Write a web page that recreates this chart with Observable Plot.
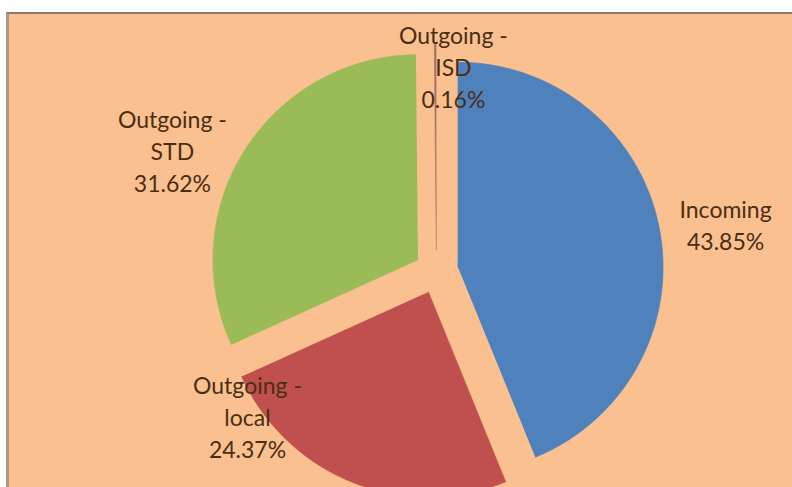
<!DOCTYPE html>
<html>
<head>
<meta charset="utf-8">
<script src="https://cdn.jsdelivr.net/npm/d3@7"></script>
<script src="https://cdn.jsdelivr.net/npm/@observablehq/plot@0.6"></script>
<style>
  html, body { margin: 0; padding: 0; background: #ffffff; width: 792px; height: 487px; overflow: hidden; }
  #frame {
    position: absolute; left: 6px; top: 12px;
    width: 783px; height: 473px;
    border-left: 3px solid #a89888; border-top: 2px solid #8f7866;
    background: #fac090; overflow: hidden;
  }
  #frame svg { display: block; background: transparent; }
</style>
</head>
<body>
<div id="frame"></div>
<script>
// ---- data ----
const categories = ["Incoming", "Outgoing - local", "Outgoing - STD", "Outgoing - ISD"];
const shares = [43.85, 24.37, 31.62, 0.16];            // percent
const labelLines = ["Incoming\n43.85%", "Outgoing -\nlocal\n24.37%", "Outgoing -\nSTD\n31.62%", "Outgoing -\nISD\n0.16%"];
const sliceColors = ["#4f81bd", "#c0504d", "#9bbb59", "#a27466"];

// ---- layout (not data) ----
const W = 783, H = 473;          // svg size
const cx = 427, cy = 257;        // pie centre in svg pixels
const R = 205;                   // pie radius in pixels
const explode = 0.107;           // explode distance, in radii
const labelPlace = {             // label block centre: angle (deg, clockwise from top), distance (radii)
  "Incoming": [80.7, 1.429],
  "Outgoing - local": [232.7, 1.159],
  "Outgoing - STD": [294.7, 1.418],
  "Outgoing - ISD": [4.7, 1.006]
};

// ---- geometry from data ----
const total = d3.sum(shares);
const slicePts = [];
const labels = [];
let acc = 0;
categories.forEach((name, i) => {
  const a0 = acc / total * 2 * Math.PI;
  acc += shares[i];
  const a1 = acc / total * 2 * Math.PI;
  const mid = (a0 + a1) / 2;
  const ox = explode * Math.sin(mid), oy = -explode * Math.cos(mid);
  slicePts.push({name, x: ox, y: oy});
  const n = Math.max(2, Math.ceil((a1 - a0) / (Math.PI / 360)));
  for (let k = 0; k <= n; k++) {
    const a = a0 + (a1 - a0) * k / n;
    slicePts.push({name, x: ox + Math.sin(a), y: oy - Math.cos(a)});
  }
  const [ang, dist] = labelPlace[name];
  const t = ang * Math.PI / 180;
  labels.push({name, text: labelLines[i], x: dist * Math.sin(t), y: -dist * Math.cos(t)});
});

const chart = Plot.plot({
  width: W,
  height: H,
  margin: 0,
  style: {background: "transparent", overflow: "visible"},
  x: {axis: null, domain: [-cx / R, (W - cx) / R], range: [0, W]},
  y: {axis: null, domain: [-cy / R, (H - cy) / R], range: [0, H]},
  color: {domain: categories, range: sliceColors},
  marks: [
    Plot.line(slicePts, {x: "x", y: "y", z: "name", fill: "name", stroke: "name", strokeWidth: 0.7, curve: "linear"}),
    Plot.text(labels, {
      x: "x", y: "y", text: "text",
      fill: "#4a2e14",
      fontSize: 23,
      lineHeight: 1.39,
      fontFamily: "Lato, 'Open Sans', sans-serif",
      textAnchor: "middle",
      lineAnchor: "middle"
    })
  ]
});
document.getElementById("frame").appendChild(chart);
</script>
</body>
</html>
